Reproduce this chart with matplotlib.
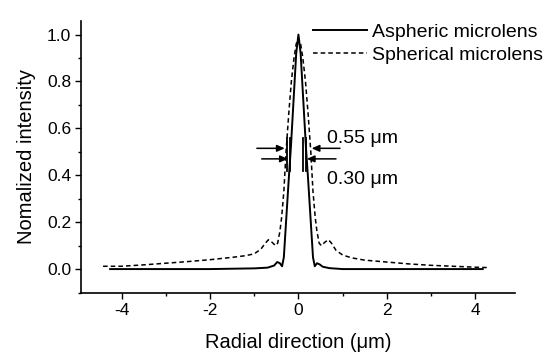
import matplotlib
matplotlib.use("Agg")
import matplotlib.pyplot as plt
from matplotlib.ticker import MultipleLocator

plt.rcParams['font.family'] = ['Liberation Sans', 'DejaVu Sans']

# Spherical microlens (dashed)
sph_x = [-4.42, -4.0, -3.5, -3.0, -2.5, -2.0, -1.5, -1.2, -1.0, -0.85, -0.75, -0.68, -0.6, -0.52,
         -0.47, -0.42, -0.38, -0.33, -0.28, -0.22, -0.16, -0.1, -0.05, 0.0, 0.05, 0.1, 0.16, 0.22,
         0.28, 0.33, 0.38, 0.42, 0.47, 0.52, 0.6, 0.68, 0.75, 0.85, 1.0, 1.2, 1.5, 2.0, 2.5, 3.0,
         3.5, 4.0, 4.33]
sph_y = [0.012, 0.012, 0.018, 0.025, 0.032, 0.04, 0.05, 0.057, 0.065, 0.085, 0.11, 0.125, 0.115, 0.1,
         0.11, 0.16, 0.22, 0.33, 0.5, 0.66, 0.8, 0.9, 0.96, 0.985, 0.96, 0.9, 0.8, 0.66,
         0.5, 0.33, 0.22, 0.16, 0.11, 0.1, 0.115, 0.125, 0.11, 0.08, 0.06, 0.048, 0.038, 0.03, 0.022, 0.016,
         0.012, 0.008, 0.006]

# Aspheric microlens (solid)
asp_x = [-4.26, -2.0, -1.0, -0.7, -0.55, -0.48, -0.42, -0.37, -0.33, -0.28, -0.22, -0.17, -0.11, -0.05,
         0.0, 0.05, 0.11, 0.17, 0.22, 0.28, 0.33, 0.37, 0.42, 0.48, 0.55, 0.7, 1.0, 2.0, 4.17]
asp_y = [0.0, 0.0, 0.003, 0.006, 0.015, 0.03, 0.025, 0.012, 0.05, 0.2, 0.38, 0.52, 0.72, 0.92,
         1.0, 0.92, 0.72, 0.52, 0.38, 0.2, 0.05, 0.012, 0.025, 0.02, 0.01, 0.004, 0.0, 0.0, 0.0]

x_ticks = [-4, -2, 0, 2, 4]
y_ticks = [0.0, 0.2, 0.4, 0.6, 0.8, 1.0]
labels = ["Aspheric microlens", "Spherical microlens"]
fwhm_labels = ["0.55 μm", "0.30 μm"]

fig = plt.figure(figsize=(5.6, 3.53), dpi=100)
ax = fig.add_axes([0.1446, 0.170, 0.775, 0.7705])

ax.plot(asp_x, asp_y, color='black', lw=1.4, label=labels[0])
ax.plot(sph_x, sph_y, color='black', lw=1.1, linestyle=(0, (3, 2)), label=labels[1])

# FWHM markers
for xb in [-0.26, -0.2, 0.1, 0.18]:
    ax.plot([xb, xb], [0.42, 0.56], color='black', lw=1.3)
arr = dict(arrowstyle='-|>,head_length=0.45,head_width=0.2', color='black', lw=1.1,
           shrinkA=0, shrinkB=0)
ax.annotate('', xy=(-0.31, 0.515), xytext=(-0.94, 0.515), arrowprops=arr)
ax.annotate('', xy=(0.30, 0.515), xytext=(0.94, 0.515), arrowprops=arr)
ax.annotate('', xy=(-0.24, 0.47), xytext=(-0.83, 0.47), arrowprops=arr)
ax.annotate('', xy=(0.19, 0.47), xytext=(0.85, 0.47), arrowprops=arr)
ax.text(0.64, 0.558, fwhm_labels[0], fontsize=14, ha='left', va='center')
ax.text(0.64, 0.38, fwhm_labels[1], fontsize=14, ha='left', va='center')

ax.set_xlim(-4.92, 4.9)
ax.set_ylim(-0.102, 1.058)
ax.set_xticks(x_ticks)
ax.set_xticklabels([str(v) for v in x_ticks])
ax.set_yticks(y_ticks)
ax.set_yticklabels([f"{v:.1f}" for v in y_ticks])
ax.xaxis.set_minor_locator(MultipleLocator(1))
ax.yaxis.set_minor_locator(MultipleLocator(0.1))
ax.tick_params(which='major', direction='out', length=4, width=1, labelsize=12.5, pad=3)
ax.tick_params(which='minor', direction='out', length=2.5, width=1)
for s in ['top', 'right']:
    ax.spines[s].set_visible(False)
for s in ['left', 'bottom']:
    ax.spines[s].set_linewidth(1.2)

ax.set_xlabel("Radial direction (μm)", fontsize=14.5, labelpad=11)
ax.set_ylabel("Nomalized intensity", fontsize=14.5, labelpad=8)

ax.legend(loc='upper left', bbox_to_anchor=(313 / 560, 0.935), bbox_transform=fig.transFigure,
          frameon=False, fontsize=14, handlelength=2.8, handletextpad=0.26,
          labelspacing=0.3, borderpad=0, borderaxespad=0)

fig.savefig("out.png", dpi=100)
